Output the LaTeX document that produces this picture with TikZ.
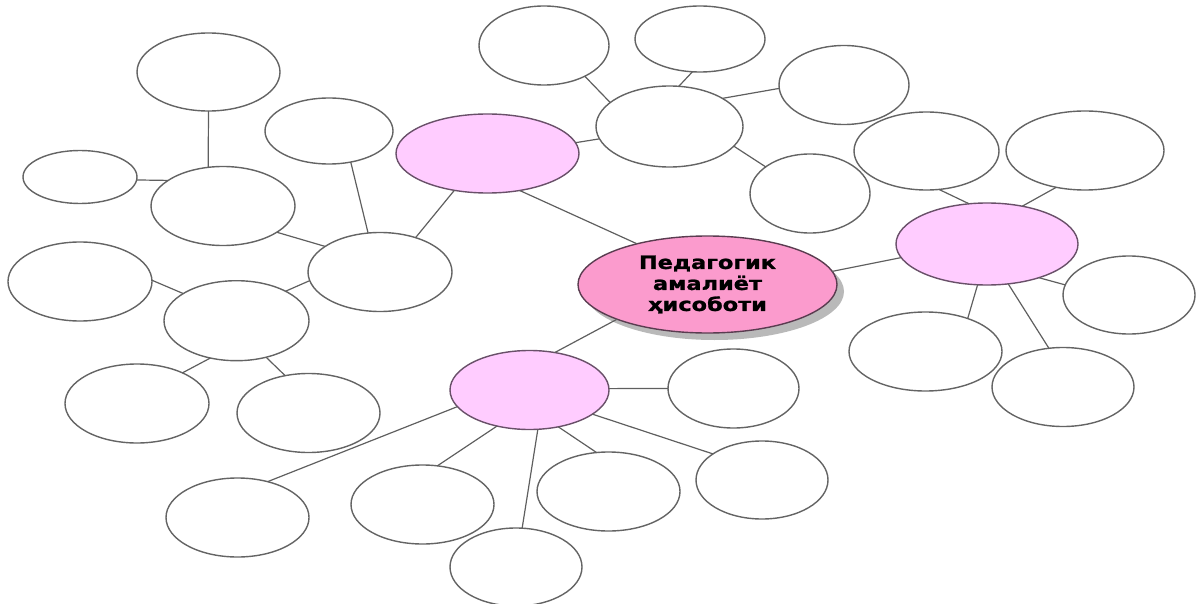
\documentclass[tikz,border=0pt]{standalone}
\usepackage{fontspec}
\usetikzlibrary{shapes.geometric,shadows}
\newfontfamily\mapfont[FakeStretch=1.22,FakeBold=1.3]{DejaVu Sans Bold}

\tikzset{
  bubble/.style 2 args={ellipse, draw={rgb, 255:red, 100; green, 100; blue, 100 }, line width=1.4pt, fill=white, inner sep=0pt, outer sep=0pt, minimum width=#1, minimum height=#2},
  theme/.style={draw={rgb, 255:red, 105; green, 80; blue, 105 }, fill={rgb, 255:red, 255; green, 204; blue, 255 }},
  link/.style={draw={rgb, 255:red, 95; green, 95; blue, 95 }, line width=1.2pt},
}

\begin{document}
\begin{tikzpicture}[x=1pt,y=1pt,yscale=-1,xscale=1]
\useasboundingbox (0,0) rectangle (1196,604);

%Shape: Ellipse, centre
\node [bubble={259pt}{97pt}, draw={rgb, 255:red, 90; green, 60; blue, 80 }, fill={rgb, 255:red, 251; green, 155; blue, 205 }, drop shadow={shadow xshift=7pt, shadow yshift=-7pt, fill={rgb, 255:red, 185; green, 185; blue, 185 }, opacity=1}, align=center, font=\mapfont\fontsize{18.4}{21}\selectfont] (report) at (707.5,284.5) {Педагогик\\амалиёт\\ҳисоботи};

%Shape: Ellipse, pink
\node [bubble={183pt}{79pt}, theme] (themeA) at (487.5,153.5) {};
\node [bubble={182pt}{82pt}, theme] (themeB) at (987,244) {};
\node [bubble={159pt}{79pt}, theme] (themeC) at (529.5,390) {};

%Shape: Ellipse, white hubs
\node [bubble={147pt}{81pt}] (subA) at (669.5,126.5) {};
\node [bubble={144pt}{79pt}] (subB) at (380,272) {};
\node [bubble={144pt}{79pt}] (subC) at (223,206) {};
\node [bubble={145pt}{80pt}] (subD) at (236.5,320.7) {};

%Shape: Ellipse, leaves
\node [bubble={130pt}{79pt}] (leafA1) at (544,45.5) {};
\node [bubble={130pt}{66pt}] (leafA2) at (700,39) {};
\node [bubble={130pt}{79pt}] (leafA3) at (844,85) {};
\node [bubble={120pt}{79pt}] (leafA4) at (810,193.5) {};
\node [bubble={128pt}{66pt}] (leafB1) at (329,131) {};
\node [bubble={143pt}{78pt}] (leafC1) at (208.5,72) {};
\node [bubble={114pt}{53pt}] (leafC2) at (80,177) {};
\node [bubble={144pt}{79pt}] (leafD1) at (80,281.5) {};
\node [bubble={144pt}{79pt}] (leafD2) at (137,403.5) {};
\node [bubble={143pt}{79pt}] (leafD3) at (308.5,413) {};
\node [bubble={145pt}{78pt}] (leafE1) at (926.5,151) {};
\node [bubble={158pt}{79pt}] (leafE2) at (1085,150.5) {};
\node [bubble={132pt}{78pt}] (leafE3) at (1129,295) {};
\node [bubble={153pt}{79pt}] (leafE4) at (925.5,351.5) {};
\node [bubble={142pt}{79pt}] (leafE5) at (1063,387) {};
\node [bubble={131pt}{79pt}] (leafF1) at (733.5,388.5) {};
\node [bubble={132pt}{78pt}] (leafF2) at (762,480) {};
\node [bubble={143pt}{79pt}] (leafF3) at (608.5,491.5) {};
\node [bubble={132pt}{78pt}] (leafF4) at (516,567) {};
\node [bubble={143pt}{79pt}] (leafF5) at (422.5,504.5) {};
\node [bubble={143pt}{79pt}] (leafF6) at (237.5,517.5) {};

%Straight Lines
\draw [link] (themeA.311) -- (report.150);
\draw [link] (report.6) -- (themeB.189);
\draw [link] (themeC.56) -- (report.201);
\draw [link] (themeA.7) -- (subA.190);
\draw [link] (themeA.228) -- (subB.44);
\draw [link] (leafA1.323) -- (subA.158);
\draw [link] (leafA2.257) -- (subA.77);
\draw [link] (leafA3.183.5) -- (subA.28);
\draw [link] (leafA4.149.5) -- (subA.343);
\draw [link] (leafB1.305) -- (subB.107);
\draw [link] (subC.334) -- (subB.155.5);
\draw [link] (subD.31) -- (subB.187);
\draw [link] (leafC1.270) -- (subC.111);
\draw [link] (leafC2.357) -- (subC.155.5);
\draw [link] (leafD1.1) -- (subD.153);
\draw [link] (subD.235) -- (leafD2.34);
\draw [link] (subD.309) -- (leafD3.122);
\draw [link] (leafE1.288) -- (themeB.114);
\draw [link] (leafE2.232) -- (themeB.47);
\draw [link] (themeB.327) -- (leafE3.171);
\draw [link] (themeB.257) -- (leafE4.38);
\draw [link] (themeB.298) -- (leafE5.110);
\draw [link] (themeC.1.4) -- (leafF1.180);
\draw [link] (themeC.339) -- (leafF2.152.5);
\draw [link] (themeC.308) -- (leafF3.107);
\draw [link] (themeC.282) -- (leafF4.81);
\draw [link] (themeC.228) -- (leafF5.69.5);
\draw [link] (themeC.193) -- (leafF6.50);

\end{tikzpicture}
\end{document}
